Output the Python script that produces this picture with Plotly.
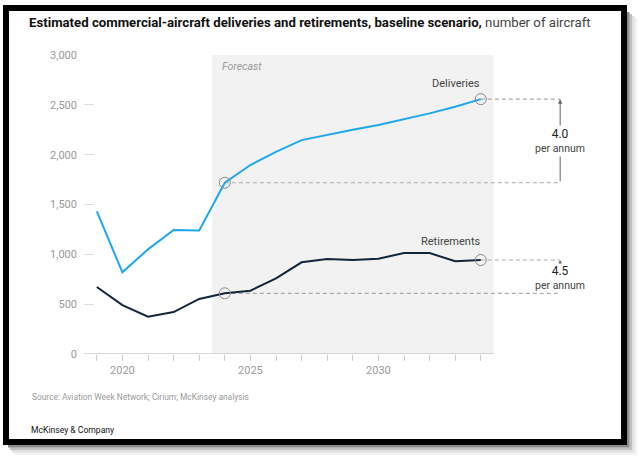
import plotly.graph_objects as go

years = list(range(2019, 2035))
deliveries = [1430, 820, 1050, 1245, 1240, 1718, 1896, 2029, 2146, 2200, 2250, 2297, 2355, 2414, 2480, 2557]
retirements = [672, 491, 374, 421, 552, 609, 635, 759, 920, 953, 943, 956, 1013, 1013, 930, 943]
x_labels = {2020: "2020", 2025: "2025", 2030: "2030"}
y_ticks = [0, 500, 1000, 1500, 2000, 2500, 3000]
forecast_start, forecast_end = 2023.5, 2034.5
guide_x = 2037.1
deliv_rate, retire_rate = "4.0", "4.5"

W, H = 640, 459
L, R, T, B = 84, 44, 55, 105
PW, PH = W - L - R, H - T - B

def px(x):
    return (x - L) / PW

def py(y):
    return (H - B - y) / PH

BLUE = "#1ea7ee"
NAVY = "#13253a"
GRAY = "#9a9a9a"

fig = go.Figure()
fig.add_trace(go.Scatter(x=years, y=deliveries, mode="lines", line=dict(color=BLUE, width=2), hoverinfo="skip"))
fig.add_trace(go.Scatter(x=years, y=retirements, mode="lines", line=dict(color=NAVY, width=2), hoverinfo="skip"))
i0, i1 = years.index(2024), years.index(2034)
mx = [years[i0], years[i1], years[i0], years[i1]]
my = [deliveries[i0], deliveries[i1], retirements[i0], retirements[i1]]
fig.add_trace(go.Scatter(x=mx, y=my, mode="markers",
                         marker=dict(symbol="circle-open", size=11, color="#8a8a8a", line=dict(width=1)),
                         hoverinfo="skip", cliponaxis=False))

shapes = []
# forecast shading
shapes.append(dict(type="rect", xref="x", yref="y", x0=forecast_start, x1=forecast_end, y0=0, y1=3000,
                   fillcolor="#f2f2f2", line=dict(width=0), layer="below"))
# baseline
shapes.append(dict(type="line", xref="x", yref="y", x0=2018.5, x1=forecast_end, y0=0, y1=0,
                   line=dict(color="#cccccc", width=1.5), layer="above"))
# dashed guides
for yy, xs in [(deliveries[i0], years[i0]), (deliveries[i1], years[i1]),
               (retirements[i0], years[i0]), (retirements[i1], years[i1])]:
    shapes.append(dict(type="line", xref="x", yref="y", x0=xs, x1=guide_x, y0=yy, y1=yy,
                       line=dict(color="#aaaaaa", width=1.2, dash="4px,3px"), layer="below"))
# frame
shapes.append(dict(type="rect", xref="paper", yref="paper", x0=px(6), x1=px(624), y0=py(8), y1=py(442),
                   line=dict(color="black", width=6), fillcolor="rgba(0,0,0,0)", layer="above"))
# shadow strips
for k, op in enumerate([0.45, 0.25, 0.12, 0.05]):
    shapes.append(dict(type="rect", xref="paper", yref="paper", x0=px(627 + 2.5 * k), x1=px(629.5 + 2.5 * k),
                       y0=py(12 + 2 * k), y1=py(447.5 + 2.5 * k), fillcolor=f"rgba(0,0,0,{op})",
                       line=dict(width=0), layer="above"))
    shapes.append(dict(type="rect", xref="paper", yref="paper", x0=px(8 + 2 * k), x1=px(627 + 2.5 * k),
                       y0=py(445 + 2.5 * k), y1=py(447.5 + 2.5 * k), fillcolor=f"rgba(0,0,0,{op})",
                       line=dict(width=0), layer="above"))

annotations = []
annotations.append(dict(xref="paper", yref="paper", x=px(27), y=py(22), xanchor="left", yanchor="middle",
                        showarrow=False,
                        text="<b>Estimated commercial-aircraft deliveries and retirements, baseline scenario,</b> "
                             "<span style='color:#444'>number of aircraft</span>",
                        font=dict(size=13.2, color="#111", family="Roboto")))
annotations.append(dict(xref="x", yref="y", x=forecast_start + 0.3, y=2880, xanchor="left", yanchor="middle",
                        showarrow=False, text="<i>Forecast</i>", font=dict(size=10.5, color="#9a9a9a")))
annotations.append(dict(xref="x", yref="y", x=2034.05, y=2719, xanchor="right", yanchor="middle",
                        showarrow=False, text="Deliveries", font=dict(size=11, color="#444")))
annotations.append(dict(xref="x", yref="y", x=2034.05, y=1124, xanchor="right", yanchor="middle",
                        showarrow=False, text="Retirements", font=dict(size=11, color="#444")))
# arrows
for top, bot in [(deliveries[i1], deliveries[i0]), (retirements[i1], retirements[i0])]:
    annotations.append(dict(xref="x", yref="y", x=guide_x, y=top, axref="x", ayref="y", ax=guide_x, ay=bot,
                            showarrow=True, arrowhead=2, arrowsize=0.9, arrowwidth=1, arrowcolor="#666",
                            text=""))
annotations.append(dict(xref="x", yref="y", x=guide_x, y=2137, showarrow=False, bgcolor="white",
                        text=f"<span style='font-size:12px;color:#222'>{deliv_rate}</span><br>per annum",
                        font=dict(size=10.5, color="#444"), borderpad=1))
annotations.append(dict(xref="x", yref="y", x=guide_x, y=762, showarrow=False, bgcolor="white",
                        text=f"<span style='font-size:12px;color:#222'>{retire_rate}</span><br>per annum",
                        font=dict(size=10.5, color="#444"), borderpad=0))
annotations.append(dict(xref="paper", yref="paper", x=px(30), y=py(397), xanchor="left", yanchor="middle",
                        showarrow=False, text="Source: Aviation Week Network; Cirium; McKinsey analysis",
                        font=dict(size=8.4, color="#9a9a9a")))
annotations.append(dict(xref="paper", yref="paper", x=px(29), y=py(430), xanchor="left", yanchor="middle",
                        showarrow=False, text="McKinsey &amp; Company",
                        font=dict(size=8.6, color="#111")))

fig.update_layout(
    width=W, height=H, margin=dict(l=L, r=R, t=T, b=B),
    paper_bgcolor="white", plot_bgcolor="white", showlegend=False,
    font=dict(family="Roboto", size=11, color=GRAY),
    shapes=shapes, annotations=annotations,
    xaxis=dict(range=[2018.5, 2038.5], tickvals=years, ticktext=[x_labels.get(y, "") for y in years],
               ticks="outside", ticklen=6, tickcolor="#cccccc", showline=False, showgrid=False,
               zeroline=False, tickfont=dict(size=11, color=GRAY), fixedrange=True),
    yaxis=dict(range=[0, 3000], tickvals=y_ticks, tickformat=",", ticks="inside", ticklen=10,
               tickcolor="#dddddd", showline=False, showgrid=False, zeroline=False,
               tickfont=dict(size=11, color=GRAY), ticklabelstandoff=6, fixedrange=True),
)

fig.write_html("out.html")
